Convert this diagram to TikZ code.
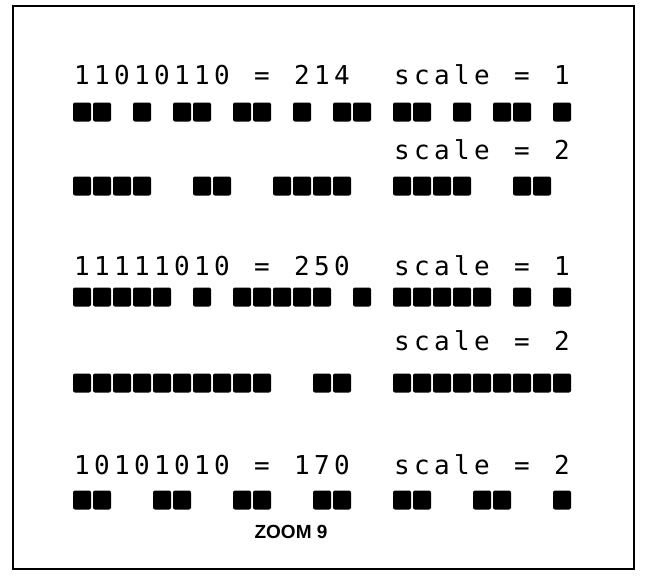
\documentclass[tikz,border=0pt]{standalone}
\usepackage{fontspec}
\newfontfamily\plotfont{DejaVu Sans Mono}
\setsansfont{Liberation Sans}

% one row of pixels: name, centre y, byte, scale
\newcommand\pixrow[4]{%
  \foreach \k in {0,...,24} {
    \pgfmathtruncatemacro\bit{mod(floor(#3/pow(2,7-mod(floor(\k/#4),8))),2)}
    \ifnum\bit=1 \fill[pixel] (73+20*\k,#2-9.5) rectangle ++(18,19); \fi
  }}
% one line of text on the character grid: name, baseline y, characters
\newcommand\textrow[3]{%
  \foreach \ch [count=\k from 0] in {#3} {
    \ifx\ch\empty\else \node[glyph] (#1-\k) at (82+20*\k,#2) {\ch}; \fi
  }}

\begin{document}
\begin{tikzpicture}[
        x=1pt, y=-1pt,
        pixel/.style={fill=black, rounded corners=2pt},
        glyph/.style={anchor=base, inner sep=0pt, font=\plotfont\fontsize{26}{26}\selectfont},
        caption/.style={anchor=base, inner sep=0pt, font=\sffamily\bfseries\fontsize{19}{19}\selectfont},
        frame/.style={draw=black, line width=1.4pt}
    ]
        \useasboundingbox (0,0) rectangle (645,576);
        \draw[frame] (13,6) rectangle (634,569);

        \textrow{t1}{84}{1,1,0,1,0,1,1,0,,=,,2,1,4,,,s,c,a,l,e,,=,,1}
        \pixrow{p1}{112}{214}{1}
        \textrow{t2}{159}{,,,,,,,,,,,,,,,,s,c,a,l,e,,=,,2}
        \pixrow{p2}{186}{214}{2}

        \textrow{t3}{275}{1,1,1,1,1,0,1,0,,=,,2,5,0,,,s,c,a,l,e,,=,,1}
        \pixrow{p3}{297}{250}{1}
        \textrow{t4}{350}{,,,,,,,,,,,,,,,,s,c,a,l,e,,=,,2}
        \pixrow{p4}{383}{250}{2}

        \textrow{t5}{474}{1,0,1,0,1,0,1,0,,=,,1,7,0,,,s,c,a,l,e,,=,,2}
        \pixrow{p5}{500}{170}{2}

        \node[caption] (zoom) at (291,538) {ZOOM 9};
    \end{tikzpicture}
\end{document}
